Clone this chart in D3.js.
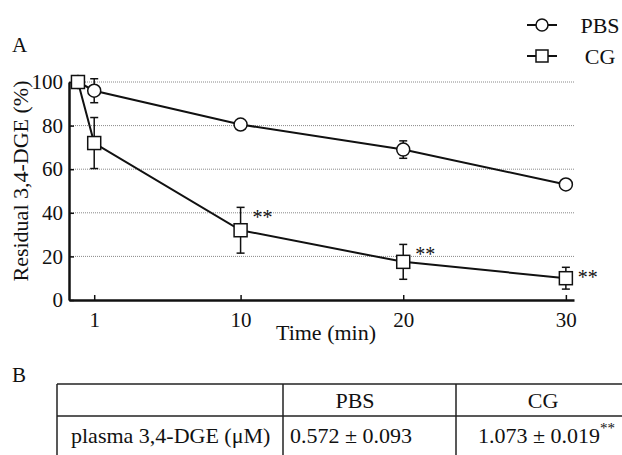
<!DOCTYPE html>
<html>
<head>
<meta charset="utf-8">
<script src="https://cdn.jsdelivr.net/npm/d3@7"></script>
<style>
  body { margin: 0; background: #fff; }
  text { font-family: "Liberation Serif", "Times New Roman", serif; fill: #111; }
</style>
</head>
<body>
<svg id="chart" width="622" height="455"></svg>
<script>
// data
var times = [0, 1, 10, 20, 30];
var pbsMean = [100, 96, 80.5, 69, 53];
var pbsErr = [0, 5.5, 1.5, 4, 1.5];
var cgMean = [100, 72, 32, 17.5, 10];
var cgErr = [0, 11.7, 10.5, 8, 5];
var cgSig = ["", "", "**", "**", "**"];
var xTicks = [1, 10, 20, 30];
var yTicks = [0, 20, 40, 60, 80, 100];
var seriesNames = ["PBS", "CG"];

// table B
var tableHeader = ["", "PBS", "CG"];
var tableRow = ["plasma 3,4-DGE (\u03bcM)", "0.572 \u00b1 0.093", "1.073 \u00b1 0.019"];
var tableRowSig = ["", "", "**"];

var svg = d3.select("#chart");

// axis goes from x=69 to 574
var x = d3.scaleLinear().domain([-0.55, 30.5]).range([69, 574]);
var y = d3.scaleLinear().domain([0, 100]).range([300, 82]);

// gridlines (dotted)
svg.append("g").selectAll("line")
  .data(yTicks.filter(d => d > 0))
  .enter().append("line")
  .attr("x1", x.range()[0]).attr("x2", x.range()[1])
  .attr("y1", d => y(d)).attr("y2", d => y(d))
  .attr("stroke", "#888").attr("stroke-width", 1)
  .attr("stroke-dasharray", "1,1");

// x axis
var xAxis = d3.axisBottom(x).tickValues(xTicks).tickSizeInner(-5).tickSizeOuter(0).tickPadding(12);
var gx = svg.append("g").attr("transform", "translate(0," + y(0) + ")").call(xAxis);
gx.select(".domain").attr("stroke", "#111").attr("stroke-width", 2.5);
gx.selectAll(".tick line").attr("stroke", "#111").attr("stroke-width", 1.5);
gx.selectAll(".tick text").style("font-family", "Liberation Serif").style("font-size", "21px").attr("fill", "#111");

// y axis
var yAxis = d3.axisLeft(y).tickValues(yTicks).tickSizeInner(-5).tickSizeOuter(0).tickPadding(6);
var gy = svg.append("g").attr("transform", "translate(" + x.range()[0] + ",0)").call(yAxis);
gy.select(".domain").attr("stroke", "#111").attr("stroke-width", 2.5);
gy.selectAll(".tick line").attr("stroke", "#111").attr("stroke-width", 1.5);
gy.selectAll(".tick text").style("font-family", "Liberation Serif").style("font-size", "21px").attr("fill", "#111");

// axis titles
svg.append("text").attr("x", 326).attr("y", 340).attr("text-anchor", "middle")
  .style("font-size", "22px").text("Time (min)");
svg.append("text").attr("transform", "translate(28,181) rotate(-90)").attr("text-anchor", "middle")
  .style("font-size", "22px").text("Residual 3,4-DGE (%)");

svg.append("text").attr("x", 12).attr("y", 52).style("font-size", "21px").text("A");
svg.append("text").attr("x", 12).attr("y", 382).style("font-size", "21px").text("B");

function series(mean, err) {
  return times.map((t, i) => ({ t: t, v: mean[i], e: err[i] }));
}
var pbs = series(pbsMean, pbsErr);
var cg = series(cgMean, cgErr);

var line = d3.line().x(d => x(d.t)).y(d => y(d.v));

function drawSeries(data, shape) {
  var g = svg.append("g");
  g.append("path").datum(data).attr("d", line)
    .attr("fill", "none").attr("stroke", "#111").attr("stroke-width", 2);
  // error bars
  var eb = g.selectAll(".eb").data(data.filter(d => d.e > 0)).enter().append("g");
  eb.append("line").attr("x1", d => x(d.t)).attr("x2", d => x(d.t))
    .attr("y1", d => y(d.v + d.e)).attr("y2", d => y(d.v - d.e));
  eb.append("line").attr("x1", d => x(d.t) - 4).attr("x2", d => x(d.t) + 4)
    .attr("y1", d => y(d.v + d.e)).attr("y2", d => y(d.v + d.e));
  eb.append("line").attr("x1", d => x(d.t) - 4).attr("x2", d => x(d.t) + 4)
    .attr("y1", d => y(d.v - d.e)).attr("y2", d => y(d.v - d.e));
  eb.selectAll("line").attr("stroke", "#111").attr("stroke-width", 1.5);
  // markers
  if (shape === "circle") {
    g.selectAll(".m").data(data).enter().append("circle")
      .attr("cx", d => x(d.t)).attr("cy", d => y(d.v)).attr("r", 6.5)
      .attr("fill", "#fff").attr("stroke", "#111").attr("stroke-width", 1.5);
  } else {
    g.selectAll(".m").data(data).enter().append("rect")
      .attr("x", d => x(d.t) - 6.5).attr("y", d => y(d.v) - 6.5)
      .attr("width", 13).attr("height", 13)
      .attr("fill", "#fff").attr("stroke", "#111").attr("stroke-width", 1.5);
  }
  return g;
}
drawSeries(pbs, "circle");
var gcg = drawSeries(cg, "square");

// significance marks
gcg.selectAll(".sig").data(cg.filter((d, i) => cgSig[i])).enter().append("text")
  .attr("x", d => x(d.t) + 12).attr("y", d => y(d.v + d.e) + 17)
  .style("font-size", "20px").text((d) => cgSig[times.indexOf(d.t)]);

// legend
var legend = svg.append("g");
seriesNames.forEach(function (name, i) {
  var ly = 25 + i * 31;
  legend.append("line").attr("x1", 527).attr("x2", 557).attr("y1", ly).attr("y2", ly)
    .attr("stroke", "#111").attr("stroke-width", 2);
  if (i === 0) {
    legend.append("circle").attr("cx", 542).attr("cy", ly).attr("r", 6)
      .attr("fill", "#fff").attr("stroke", "#111").attr("stroke-width", 1.5);
  } else {
    legend.append("rect").attr("x", 536).attr("y", ly - 6).attr("width", 12).attr("height", 12)
      .attr("fill", "#fff").attr("stroke", "#111").attr("stroke-width", 1.5);
  }
  legend.append("text").attr("x", 600).attr("y", ly + 8).attr("text-anchor", "middle")
    .style("font-size", "22px").text(name);
});

// table B
var colX = [57, 283, 456, 622];
var rowY = [384, 416, 456];
var tg = svg.append("g");
rowY.forEach(function (ry) {
  tg.append("line").attr("x1", colX[0]).attr("x2", colX[3]).attr("y1", ry).attr("y2", ry)
    .attr("stroke", "#222").attr("stroke-width", 1.5);
});
colX.slice(0, 3).forEach(function (cx) {
  tg.append("line").attr("x1", cx).attr("x2", cx).attr("y1", rowY[0]).attr("y2", rowY[2])
    .attr("stroke", "#222").attr("stroke-width", 1.5);
});
tableHeader.forEach(function (h, i) {
  if (!h) return;
  tg.append("text").attr("x", i === 1 ? 355 : 543).attr("y", 408).attr("text-anchor", "middle")
    .style("font-size", "22px").text(h);
});
tableRow.forEach(function (c, i) {
  var t = tg.append("text").attr("y", 443).style("font-size", "22px");
  if (i === 0) t.attr("x", 71).text(c);
  else if (i === 1) t.attr("x", 290).text(c);
  else {
    t.attr("x", 478).text(c);
    t.append("tspan").attr("dy", -10).style("font-size", "15px").text(tableRowSig[i]);
  }
});
</script>
</body>
</html>
